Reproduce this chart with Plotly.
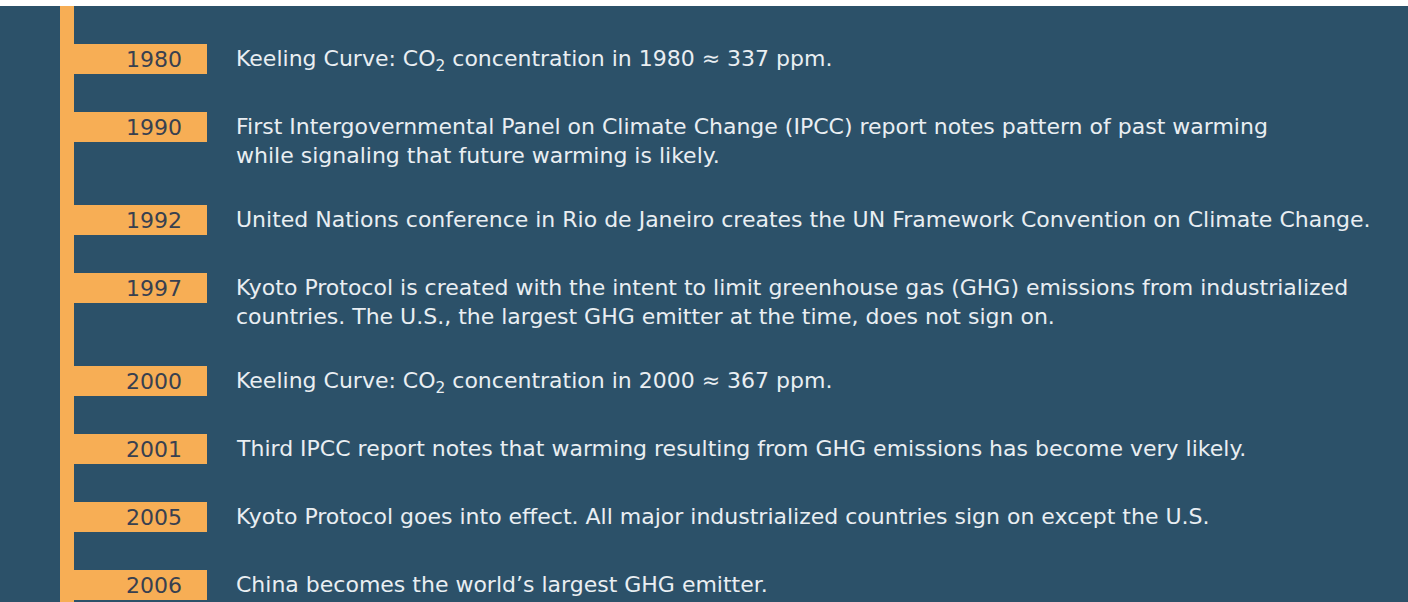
import plotly.graph_objects as go

# ---------------- data ----------------
years = ["1980", "1990", "1992", "1997", "2000", "2001", "2005", "2006"]
events = [
    "Keeling Curve: CO<sub>2</sub> concentration in 1980 \u2248 337 ppm.",
    "First Intergovernmental Panel on Climate Change (IPCC) report notes pattern of past warming<br>"
    "while signaling that future warming is likely.",
    "United Nations conference in Rio de Janeiro creates the UN Framework Convention on Climate Change.",
    "Kyoto Protocol is created with the intent to limit greenhouse gas (GHG) emissions from industrialized<br>"
    "countries. The U.S., the largest GHG emitter at the time, does not sign on.",
    "Keeling Curve: CO<sub>2</sub> concentration in 2000 \u2248 367 ppm.",
    "Third IPCC report notes that warming resulting from GHG emissions has become very likely.",
    "Kyoto Protocol goes into effect. All major industrialized countries sign on except the U.S.",
    "China becomes the world\u2019s largest GHG emitter.",
]

# ---------------- layout / style ----------------
W, H = 1408, 602
TOP_BAND = 6
BG = "#2c5169"
ORANGE = "#f7ae55"
YEAR_COLOR = "#384050"
TEXT_COLOR = "#e9eef2"

first_center = 59
row_gap = 68
line_step = 25
spine_x0, spine_x1 = 60, 74
bar_start, bar_end, bar_h = 60, 207, 30
year_right = 184
text_left = 234

# row centres derived from the number of text lines in each entry
n_lines = [e.count("<br>") + 1 for e in events]
centers = []
y = first_center
for n in n_lines:
    centers.append(y)
    y += row_gap + line_step * (n - 1)

fig = go.Figure()

fig.add_trace(go.Bar(
    orientation="h",
    y=centers,
    x=[bar_end - bar_start] * len(years),
    base=bar_start,
    width=bar_h,
    marker=dict(color=ORANGE, line=dict(width=0)),
    hoverinfo="skip",
    showlegend=False,
))

# vertical spine of the timeline
fig.add_shape(type="rect", xref="x", yref="paper",
              x0=spine_x0, x1=spine_x1, y0=0, y1=1,
              fillcolor=ORANGE, line=dict(width=0), layer="below")

for yr, ev, c in zip(years, events, centers):
    fig.add_annotation(x=year_right, y=c, text=yr, showarrow=False,
                       xanchor="right", yanchor="middle",
                       font=dict(family="DejaVu Sans", size=22, color=YEAR_COLOR))
    fig.add_annotation(x=text_left, y=c, text=ev, showarrow=False,
                       xanchor="left", yanchor="top", yshift=15, align="left",
                       font=dict(family="DejaVu Sans", size=22, color=TEXT_COLOR))

fig.update_layout(
    width=W, height=H,
    margin=dict(l=0, r=0, t=TOP_BAND, b=0),
    paper_bgcolor="white",
    plot_bgcolor=BG,
    xaxis=dict(range=[0, W], visible=False, fixedrange=True),
    yaxis=dict(range=[H, TOP_BAND], visible=False, fixedrange=True),
    bargap=0,
)

fig.write_html(
    "out.html",
    config={"displayModeBar": False},
    post_script="document.body.style.margin='0';document.body.style.overflow='hidden';",
)
